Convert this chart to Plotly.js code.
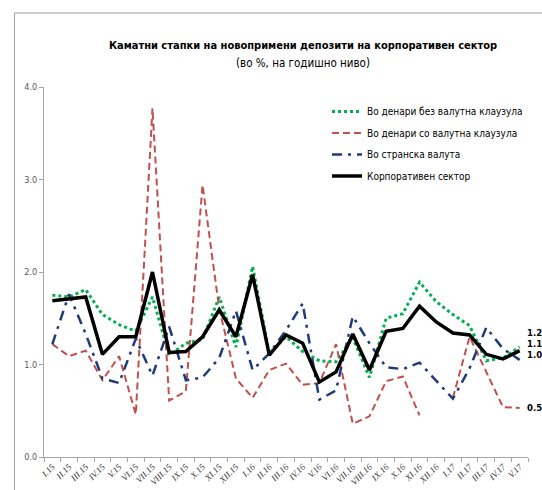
<!DOCTYPE html>
<html>
<head>
<meta charset="utf-8">
<script src="https://cdn.plot.ly/plotly-3.0.1.min.js"></script>
<style>
  html, body { margin: 0; padding: 0; background: #ffffff; }
  #chart { width: 542px; height: 490px; }
</style>
</head>
<body>
<div id="chart"></div>
<script>
// ---- Data ----
const months = ["I.15","II.15","III.15","IV.15","V.15","VI.15","VII.15","VIII.15","IX.15","X.15","XI.15","XII.15",
                "I.16","II.16","III.16","IV.16","V.16","VI.16","VII.16","VIII.16","IX.16","X.16","XI.16","XII.16",
                "I.17","II.17","III.17","IV.17","V.17"];

const denariNoClause = [1.75, 1.73, 1.81, 1.54, 1.43, 1.36, 1.73, 1.10, 1.23, 1.27, 1.73, 1.19,
                        2.06, 1.12, 1.30, 1.14, 1.04, 1.03, 1.29, 0.86, 1.50, 1.55, 1.89, 1.68,
                        1.54, 1.42, 1.04, 1.07, 1.19];

const denariClause   = [1.22, 1.09, 1.15, 0.83, 1.09, 0.46, 3.77, 0.61, 0.71, 2.94, 1.60, 0.85,
                        0.64, 0.94, 1.01, 0.78, 0.80, 1.22, 0.36, 0.44, 0.82, 0.87, 0.45, null,
                        0.64, 1.30, 0.92, 0.54, 0.53];

const foreignCurr    = [1.22, 1.76, 1.33, 0.85, 0.80, 1.28, 0.88, 1.41, 0.83, 0.86, 1.07, 1.58,
                        0.94, 1.12, 1.37, 1.66, 0.62, 0.72, 1.52, 1.23, 0.97, 0.95, 1.02, 0.83,
                        0.63, 0.96, 1.40, 1.17, 1.05];

const corporate      = [1.69, 1.71, 1.73, 1.11, 1.30, 1.30, 2.00, 1.13, 1.14, 1.30, 1.59, 1.30,
                        1.97, 1.10, 1.32, 1.23, 0.81, 0.92, 1.33, 0.94, 1.36, 1.39, 1.63, 1.46,
                        1.34, 1.32, 1.11, 1.06, 1.15];

const seriesNames = ["Во денари без валутна клаузула", "Во денари со валутна клаузула", "Во странска валута", "Корпоративен сектор"];
const endLabels   = ["1.2", "1.1", "1.0", "0.5"];
const endLabelY   = [1.35, 1.23, 1.11, 0.53];

const narrow = '"Liberation Sans Narrow", "DejaVu Sans Condensed", "Roboto", Arial, sans-serif';

const traces = [
  { x: months, y: denariNoClause, name: seriesNames[0], legendgroup: "g1", type: "scatter", mode: "lines",
    line: { color: "#00B050", width: 3, dash: "3px,3px" } },
  { x: months, y: denariClause, name: seriesNames[1], legendgroup: "g2", type: "scatter", mode: "lines",
    line: { color: "#C0504D", width: 2, dash: "7px,4px" }, connectgaps: false },
  { x: months, y: foreignCurr, name: seriesNames[2], legendgroup: "g3", type: "scatter", mode: "lines",
    line: { color: "#1F3B7A", width: 2.5, dash: "10px,6px,3px,6px" } },
  { x: months, y: corporate, name: seriesNames[3], legendgroup: "g4", type: "scatter", mode: "lines",
    line: { color: "#000000", width: 3.5 } }
];

const annotations = [
  { text: "(во %, на годишно ниво)", xref: "paper", yref: "paper", x: 0.535, y: 1.065,
    xanchor: "center", yanchor: "middle", showarrow: false,
    font: { family: narrow, size: 11.5, color: "#000000" } }
];
for (let i = 0; i < endLabels.length; i++) {
  annotations.push({ text: "<b>" + endLabels[i] + "</b>", xref: "paper", yref: "y",
    x: 0.993, y: endLabelY[i], xanchor: "left", yanchor: "middle", showarrow: false,
    font: { family: narrow, size: 9.5, color: "#000000" } });
}

const layout = {
  width: 542, height: 490,
  margin: { l: 44, r: 14, t: 87, b: 33 },
  paper_bgcolor: "#ffffff", plot_bgcolor: "#ffffff",
  title: { text: "<b>Каматни стапки на новопримени депозити на корпоративен сектор</b>",
    xref: "container", yref: "container", x: 0.559, y: 1 - 45/490,
    xanchor: "center", yanchor: "middle",
    font: { family: narrow, size: 11, color: "#000000" } },
  showlegend: true,
  legend: { x: 1.0, y: 0.973, xanchor: "right", yanchor: "top", tracegroupgap: 2.5,
    bgcolor: "rgba(0,0,0,0)", font: { family: narrow, size: 10, color: "#000000" } },
  xaxis: { type: "category", range: [-0.5, 28.5], showgrid: false, zeroline: false,
    showline: true, linecolor: "#A6A6A6", linewidth: 1,
    ticks: "outside", tickson: "boundaries", ticklen: 4, tickcolor: "#A6A6A6",
    tickangle: -45, tickfont: { family: '"Liberation Serif", "DejaVu Serif", serif', size: 9, color: "#404040", style: "italic" } },
  yaxis: { range: [0, 4], dtick: 1, tickformat: ".1f", showgrid: false, zeroline: false,
    showline: true, linecolor: "#A6A6A6", linewidth: 1,
    ticks: "outside", ticklen: 4, tickcolor: "#A6A6A6",
    tickfont: { family: narrow, size: 9, color: "#595959" } },
  annotations: annotations,
  shapes: [
    { type: "rect", xref: "paper", yref: "paper", x0: -0.061, x1: 1.04, y0: -0.12, y1: 1.2,
      line: { color: "#A0A0A0", width: 1 }, fillcolor: "rgba(0,0,0,0)", layer: "below" }
  ]
};

Plotly.newPlot("chart", traces, layout, { displayModeBar: false, staticPlot: true });
</script>
</body>
</html>
